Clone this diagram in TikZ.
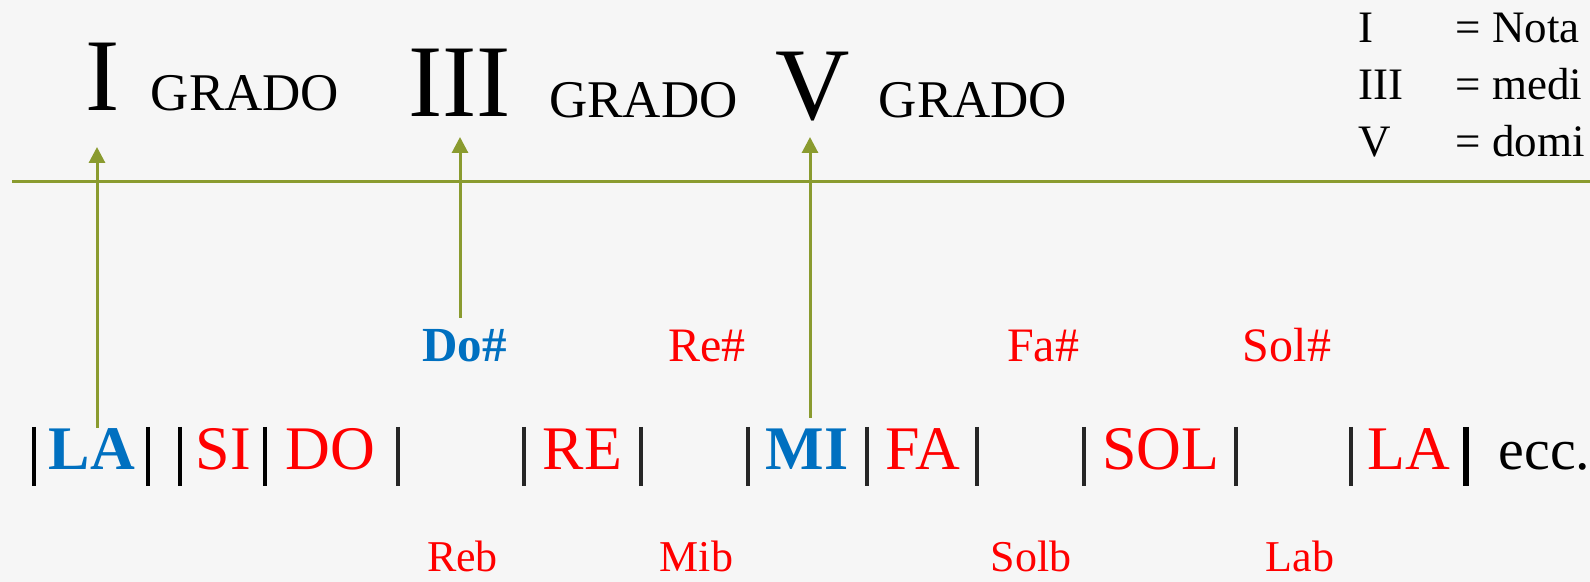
\documentclass[tikz,border=0pt]{standalone}
\usepackage{fontspec}
\setmainfont{Liberation Serif}
\usetikzlibrary{arrows.meta}
\definecolor{olivegreen}{HTML}{8A9B2F}
\definecolor{noteblue}{HTML}{0070C0}
\definecolor{notered}{HTML}{FF0000}
\definecolor{bargray}{HTML}{262626}
\definecolor{paper}{HTML}{F6F6F6}
\begin{document}
\begin{tikzpicture}[x=0.5pt,y=-0.5pt,
  txt/.style={inner sep=0pt, anchor=base},
  note/.style={txt, font=\fontsize{31}{31}\selectfont, text=notered},
  keynote/.style={txt, font=\fontsize{31}{31}\selectfont\bfseries, text=noteblue},
  sharp/.style={txt, font=\fontsize{24}{24}\selectfont, text=notered},
  keysharp/.style={txt, font=\fontsize{24.5}{24.5}\selectfont\bfseries, text=noteblue},
  flat/.style={txt, font=\fontsize{22}{22}\selectfont, text=notered},
  numeral/.style={txt, font=\fontsize{51.5}{51.5}\selectfont},
  grado/.style={txt, font=\fontsize{26.5}{26.5}\selectfont},
  legend/.style={inner sep=0pt, anchor=base west, font=\fontsize{22.5}{22.5}\selectfont},
  thinbar/.style={draw=black, line width=1.8pt},
  bar/.style={draw=bargray, line width=2.4pt},
  endbar/.style={draw=black, line width=2.7pt},
  axis/.style={draw=olivegreen, line width=1.5pt},
  pointer/.style={draw=olivegreen, line width=1.5pt, -{Triangle[width=8pt,length=8pt]}},
]
\fill[paper] (0,0) rectangle (1590,582);
\useasboundingbox (0,0) rectangle (1590,582);

% horizontal line
\coordinate (axL) at (12,182);
\coordinate (axR) at (1590,182);
\draw[axis] (axL) -- (axR);

% top row
\node[numeral] (g1) at (102.5,111) {I};
\node[grado] (g1t) at (245,111) {GRADO};
\node[numeral] (g3) at (459.5,117) {III};
\node[grado] (g3t) at (643.5,118) {GRADO};
\node[numeral] (g5) at (812.5,120) {V};
\node[grado] (g5t) at (973,118) {GRADO};

% legend
\node[legend] (k1) at (1358,43) {I};
\node[legend] (k1t) at (1455,43) {= Nota};
\node[legend] (k3) at (1358,100) {III};
\node[legend] (k3t) at (1455,100) {= medi};
\node[legend] (k5) at (1358,157) {V};
\node[legend] (k5t) at (1455,157) {= domi};

% bars
\foreach \x in {34,148,180,265} {\draw[thinbar] (\x,427) -- (\x,486);}
\foreach \x in {398,524,641,748,867,977,1084,1236,1351} {\draw[bar] (\x,427) -- (\x,486);}
\draw[endbar] (1466,427) -- (1466,486);

% notes
\node[keynote] (la) at (92,470) {LA};
\node[note] (si) at (223.5,470) {SI};
\node[note] (do) at (330.5,470) {DO};
\node[note] (re) at (582.5,470) {RE};
\node[keynote] (mi) at (807,470) {MI};
\node[note] (fa) at (923,470) {FA};
\node[note] (sol) at (1161,470) {SOL};
\node[note] (la2) at (1408.5,470) {LA};
\node[txt, font=\fontsize{29}{29}\selectfont] (ecc) at (1544.5,470) {ecc.};

% sharps
\node[keysharp] (dos) at (464.5,362) {Do\#};
\node[sharp] (res) at (707,362) {Re\#};
\node[sharp] (fas) at (1043,362) {Fa\#};
\node[sharp] (sols) at (1287,362) {Sol\#};

% flats
\node[flat] (reb) at (462.5,571) {Reb};
\node[flat] (mib) at (696.5,571) {Mib};
\node[flat] (solb) at (1031,571) {Solb};
\node[flat] (lab) at (1300,571) {Lab};

% pointers
\coordinate (p1from) at (97,428);
\coordinate (p1to) at (97,147);
\coordinate (p3from) at (460,318);
\coordinate (p3to) at (460,137);
\coordinate (p5from) at (810,418);
\coordinate (p5to) at (810,137);
\draw[pointer] (p1from) -- (p1to);
\draw[pointer] (p3from) -- (p3to);
\draw[pointer] (p5from) -- (p5to);
\end{tikzpicture}
\end{document}
